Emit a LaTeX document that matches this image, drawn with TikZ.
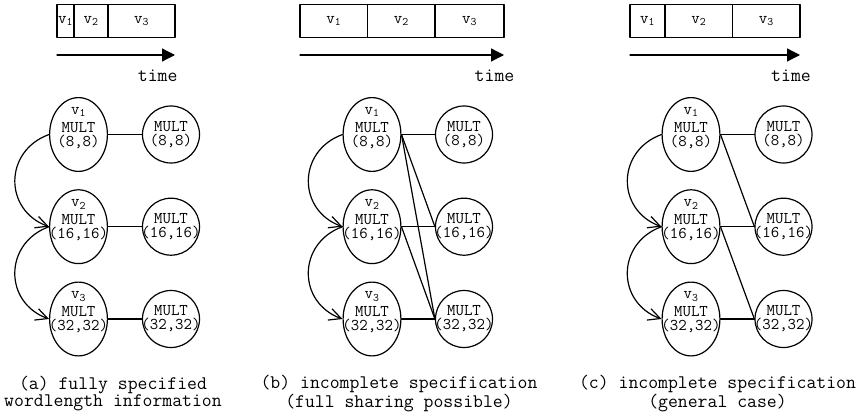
\documentclass[tikz,border=0pt]{standalone}
\usepackage{fontspec}
\usetikzlibrary{arrows.meta,shapes.geometric}

\begin{document}
\begin{tikzpicture}[x=1pt, y=1pt, line cap=round, line join=round,
    >={Straight Barb[length=12pt,width=12pt]},
    every node/.style={font=\ttfamily\fontsize{16.4}{14}\selectfont},
    opnode/.style={draw, ellipse, line width=1.2pt, minimum width=57.8pt, minimum height=73.8pt, inner sep=0pt},
    resnode/.style={draw, circle, line width=1.2pt, minimum size=57pt, inner sep=0pt},
    optext/.style={align=center, inner sep=0pt},
    vtag/.style={inner sep=0pt, yshift=22.5pt},
    slot/.style={draw, line width=1.2pt, minimum height=33pt, inner sep=0pt},
    timeaxis/.style={line width=1.2pt, -{Triangle[length=13pt,width=13pt]}},
    timelabel/.style={font=\ttfamily\fontsize{19.2}{17}\selectfont},
    caption/.style={align=center, font=\ttfamily\fontsize{19.2}{17}\selectfont},
    wire/.style={line width=1.2pt},
    seqarrow/.style={line width=1.2pt, ->}]
    \useasboundingbox (0,0) rectangle (867,-417);

    % (a) fully specified
    \node[slot, minimum width=17pt] (ta1) at (65.5,-21) {v\textsubscript{1}};
    \node[slot, minimum width=34pt] (ta2) at (91,-21) {v\textsubscript{2}};
    \node[slot, minimum width=67pt] (ta3) at (141.5,-21) {v\textsubscript{3}};
    \draw[timeaxis] (57,-55) -- (175,-55);
    \node[timelabel] (tma) at (157.7,-76) {time};

    \node[opnode, label={[optext,yshift=-1pt]center:MULT\\(8,8)}, label={[vtag]center:v\textsubscript{1}}] (a1) at (78.5,-134.5) {};
    \node[opnode, label={[optext,yshift=-1pt]center:MULT\\(16,16)}, label={[vtag]center:v\textsubscript{2}}] (a2) at (78.5,-226.7) {};
    \node[opnode, label={[optext,yshift=-1pt]center:MULT\\(32,32)}, label={[vtag]center:v\textsubscript{3}}] (a3) at (78.5,-319) {};
    \node[resnode, label={[optext]center:MULT\\(8,8)}] (ra1) at (171,-134.5) {};
    \node[resnode, label={[optext]center:MULT\\(16,16)}] (ra2) at (171,-226.7) {};
    \node[resnode, label={[optext]center:MULT\\(32,32)}] (ra3) at (171,-319) {};

    \draw[wire] (a1.east) -- (ra1.west);
    \draw[wire] (a2.east) -- (ra2.west);
    \draw[wire] (a3.east) -- (ra3.west);
    \draw[seqarrow] (a1.west) to[out=200, in=160, looseness=1.34] (a2.west);
    \draw[seqarrow] (a2.west) to[out=200, in=160, looseness=1.34] (a3.west);

    \node[caption] (capa) at (113,-393.5) {(a) fully specified\\wordlength information};

    % (b) full sharing possible
    \node[slot, minimum width=67.7pt] (tb1) at (333.85,-21) {v\textsubscript{1}};
    \node[slot, minimum width=67.3pt] (tb2) at (401.35,-21) {v\textsubscript{2}};
    \node[slot, minimum width=69pt] (tb3) at (469.5,-21) {v\textsubscript{3}};
    \draw[timeaxis] (300,-55) -- (504,-55);
    \node[timelabel] (tmb) at (494.5,-76) {time};

    \node[opnode, label={[optext,yshift=-1pt]center:MULT\\(8,8)}, label={[vtag]center:v\textsubscript{1}}] (b1) at (372,-134.5) {};
    \node[opnode, label={[optext,yshift=-1pt]center:MULT\\(16,16)}, label={[vtag]center:v\textsubscript{2}}] (b2) at (372,-226.7) {};
    \node[opnode, label={[optext,yshift=-1pt]center:MULT\\(32,32)}, label={[vtag]center:v\textsubscript{3}}] (b3) at (372,-319) {};
    \node[resnode, label={[optext]center:MULT\\(8,8)}] (rb1) at (464,-134.5) {};
    \node[resnode, label={[optext]center:MULT\\(16,16)}] (rb2) at (464,-226.7) {};
    \node[resnode, label={[optext]center:MULT\\(32,32)}] (rb3) at (464,-319) {};

    \draw[wire] (b1.east) -- (rb1.west);
    \draw[wire] (b1.east) -- (rb2.west);
    \draw[wire] (b1.east) -- (rb3.west);
    \draw[wire] (b2.east) -- (rb2.west);
    \draw[wire] (b2.east) -- (rb3.west);
    \draw[wire] (b3.east) -- (rb3.west);
    \draw[seqarrow] (b1.west) to[out=200, in=160, looseness=1.34] (b2.west);
    \draw[seqarrow] (b2.west) to[out=200, in=160, looseness=1.34] (b3.west);

    \node[caption] (capb) at (399,-393.5) {(b) incomplete specification\\(full sharing possible)};

    % (c) general case
    \node[slot, minimum width=35pt] (tc1) at (647.5,-21) {v\textsubscript{1}};
    \node[slot, minimum width=67.6pt] (tc2) at (698.8,-21) {v\textsubscript{2}};
    \node[slot, minimum width=67.4pt] (tc3) at (766.3,-21) {v\textsubscript{3}};
    \draw[timeaxis] (630,-55) -- (800,-55);
    \node[timelabel] (tmc) at (791,-76) {time};

    \node[opnode, label={[optext,yshift=-1pt]center:MULT\\(8,8)}, label={[vtag]center:v\textsubscript{1}}] (c1) at (691,-134.5) {};
    \node[opnode, label={[optext,yshift=-1pt]center:MULT\\(16,16)}, label={[vtag]center:v\textsubscript{2}}] (c2) at (691,-226.7) {};
    \node[opnode, label={[optext,yshift=-1pt]center:MULT\\(32,32)}, label={[vtag]center:v\textsubscript{3}}] (c3) at (691,-319) {};
    \node[resnode, label={[optext]center:MULT\\(8,8)}] (rc1) at (783.5,-134.5) {};
    \node[resnode, label={[optext]center:MULT\\(16,16)}] (rc2) at (783.5,-226.7) {};
    \node[resnode, label={[optext]center:MULT\\(32,32)}] (rc3) at (783.5,-319) {};

    \draw[wire] (c1.east) -- (rc1.west);
    \draw[wire] (c1.east) -- (rc2.west);
    \draw[wire] (c2.east) -- (rc2.west);
    \draw[wire] (c2.east) -- (rc3.west);
    \draw[wire] (c3.east) -- (rc3.west);
    \draw[seqarrow] (c1.west) to[out=200, in=160, looseness=1.34] (c2.west);
    \draw[seqarrow] (c2.west) to[out=200, in=160, looseness=1.34] (c3.west);

    \node[caption] (capc) at (717.5,-393.5) {(c) incomplete specification\\(general case)};
\end{tikzpicture}
\end{document}
